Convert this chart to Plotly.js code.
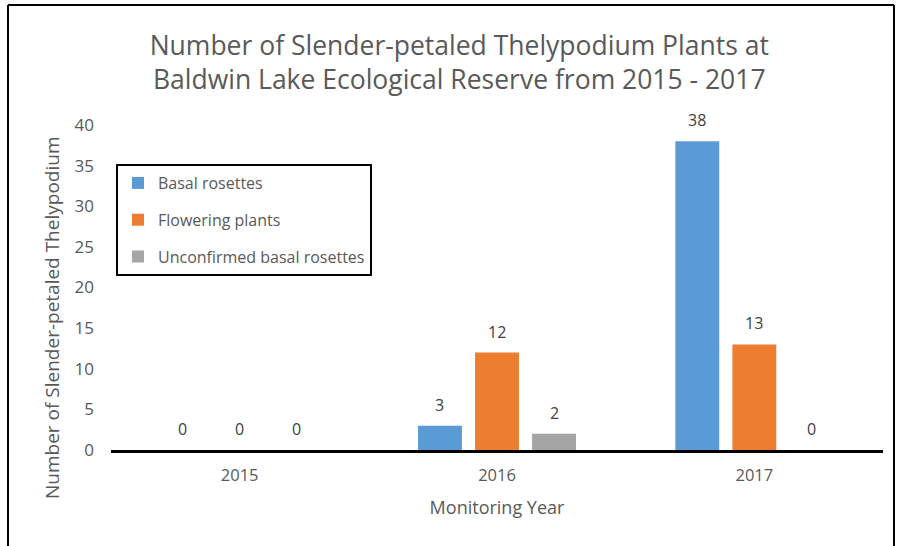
<!DOCTYPE html>
<html><head><meta charset="utf-8">
<script src="https://cdn.plot.ly/plotly-3.0.1.min.js"></script>
<style>html,body{margin:0;padding:0;background:#fff;}#chart{width:897px;height:546px;}</style>
</head><body><div id="chart"></div>
<script>
const years = ['2015', '2016', '2017'];
const seriesNames = ['Basal rosettes', 'Flowering plants', 'Unconfirmed basal rosettes'];
const basal = [0, 3, 38];
const flowering = [0, 12, 13];
const unconfirmed = [0, 2, 0];
const colors = ['#5B9BD5', '#ED7D31', '#A5A5A5'];
const yTicks = [0, 5, 10, 15, 20, 25, 30, 35, 40];

const FONT = '"Open Sans", Lato, sans-serif';
const BARGAP = 0.335;
const values = [basal, flowering, unconfirmed];
const traces = values.map((v, i) => ({
  type: 'bar', x: years, y: v, name: seriesNames[i],
  marker: {color: colors[i]}, legendgroup: 'g' + i
}));

const L = 111, R = 14, T = 125, B = 96;
const pw = 897 - L - R, ph = 546 - T - B;
const px = x => (x - L) / pw;
const py = y => (546 - B - y) / ph;

// value labels above each bar, positioned on the library's axes
const slot = (1 - BARGAP) / values.length;
const labels = [];
values.forEach((v, j) => v.forEach((val, i) => {
  labels.push({xref: 'x', yref: 'y', x: i + (j - (values.length - 1) / 2) * slot, y: val,
    text: String(val), showarrow: false, yanchor: 'bottom', yshift: 8,
    font: {family: FONT, size: 16, color: '#404040'}});
}));
labels.push({xref: 'paper', yref: 'paper', x: px(52), y: py(318), xanchor: 'center', yanchor: 'middle',
  text: 'Number of Slender-petaled Thelypodium', textangle: -90, showarrow: false,
  font: {family: FONT, size: 19, color: '#595959'}});

const layout = {
  width: 897, height: 546,
  margin: {l: L, r: R, t: T, b: B},
  paper_bgcolor: '#fff', plot_bgcolor: '#fff',
  font: {family: FONT, color: '#595959', size: 15},
  title: {text: 'Number of Slender-petaled Thelypodium Plants at<br>Baldwin Lake Ecological Reserve from 2015 - 2017',
    font: {family: FONT, size: 26.5, color: '#595959'}, x: 0.512, xanchor: 'center', y: 0.9, yanchor: 'middle'},
  barmode: 'group', bargap: BARGAP, bargroupgap: 0.23,
  xaxis: {type: 'category', showline: true, linecolor: '#000', linewidth: 2.5, ticks: '', showgrid: false,
    tickfont: {family: FONT, size: 16.5, color: '#595959'}, ticklabelstandoff: 9,
    title: {text: 'Monitoring Year', font: {family: FONT, size: 18, color: '#595959'}, standoff: 16}},
  yaxis: {range: [0, 40], tickvals: yTicks, showgrid: false, zeroline: false, showline: false, ticks: '',
    tickfont: {family: FONT, size: 17, color: '#595959'}, ticklabelstandoff: 16},
  showlegend: true,
  legend: {x: px(116), y: py(164), xanchor: 'left', yanchor: 'top', bordercolor: '#000', borderwidth: 2,
    bgcolor: '#fff', font: {family: FONT, size: 16, color: '#595959'}, traceorder: 'grouped', tracegroupgap: 13,
    itemwidth: 30},
  annotations: labels,
  shapes: [
    {type: 'line', xref: 'paper', yref: 'paper', x0: px(8), x1: px(8), y0: py(5), y1: py(546), line: {color: '#000', width: 2}},
    {type: 'line', xref: 'paper', yref: 'paper', x0: px(8), x1: px(894), y0: py(5), y1: py(5), line: {color: '#000', width: 2}},
    {type: 'line', xref: 'paper', yref: 'paper', x0: px(894), x1: px(894), y0: py(5), y1: py(546), line: {color: '#000', width: 2}}
  ]
};
Plotly.newPlot('chart', traces, layout, {displayModeBar: false, staticPlot: true});
</script></body></html>
